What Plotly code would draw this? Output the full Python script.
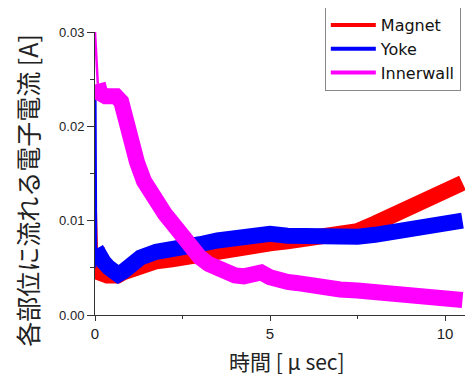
import plotly.graph_objects as go

# Innerwall (magenta)
t_inner = [0, 0.03, 0.08, 0.15, 0.3, 0.45, 0.6, 0.75, 0.9, 1.0, 1.2, 1.4, 1.6, 1.8, 2.0, 2.2, 2.4,
           2.6, 2.8, 3.0, 3.25, 3.5, 3.75, 4.0, 4.25, 4.5, 4.75, 5.0, 5.25, 5.5, 5.75, 6.0, 6.5, 7.0,
           7.5, 8.0, 8.5, 9.0, 9.25, 9.5, 9.75, 10.0, 10.25, 10.5]
v_inner = [0.0300, 0.0280, 0.0245, 0.0235, 0.0232, 0.0231, 0.0232, 0.0226, 0.0203, 0.0185, 0.0162,
           0.0142, 0.0128, 0.0117, 0.0107, 0.0098, 0.0088, 0.0079, 0.0069, 0.0061, 0.0054, 0.0049,
           0.0044, 0.0042, 0.0041, 0.0043, 0.0045, 0.0040, 0.0036, 0.0035, 0.0034, 0.0032, 0.0030,
           0.0027, 0.0026, 0.0024, 0.0022, 0.0020, 0.0020, 0.0018, 0.0021, 0.0017, 0.0019, 0.0016]

# Magnet (red)
t_mag = [0, 0.02, 0.05, 0.1, 0.2, 0.35, 0.5, 0.65, 0.8, 1.0, 1.3, 1.75, 2.2, 2.6, 3.0, 3.5,
         4.0, 4.5, 5.0, 5.5, 6.0, 6.5, 7.0, 7.5, 8.0, 8.5, 9.0, 9.5, 10.0, 10.25, 10.5]
v_mag = [0.0050, 0.0112, 0.0070, 0.0048, 0.0044, 0.0042, 0.0041, 0.0042, 0.0045, 0.0048, 0.0052,
         0.0057, 0.0059, 0.0062, 0.0064, 0.0067, 0.0070, 0.0073, 0.0076, 0.0078, 0.0080,
         0.0082, 0.0085, 0.0089, 0.0097, 0.0106, 0.0114, 0.0121, 0.0129, 0.0133, 0.0140]

# Yoke (blue)
t_yoke = [0, 0.01, 0.03, 0.06, 0.15, 0.25, 0.4, 0.52, 0.66, 0.8, 1.0, 1.3, 1.75, 2.25, 2.7, 3.0,
          3.5, 4.0, 4.5, 5.0, 5.5, 6.0, 6.5, 7.0, 7.5, 8.0, 8.5, 9.0, 9.5, 10.0, 10.25, 10.5]
v_yoke = [0.0050, 0.0230, 0.0070, 0.0066, 0.0062, 0.0056, 0.0050, 0.0046, 0.0043, 0.0046, 0.0052,
          0.0061, 0.0067, 0.0069, 0.0072, 0.0075, 0.0079, 0.0082, 0.0085, 0.0086, 0.0084, 0.0083,
          0.0082, 0.0081, 0.0083, 0.0085, 0.0088, 0.0090, 0.0093, 0.0096, 0.0098, 0.0100]

x_ticks = [0, 5, 10]
x_labels = ["0", "5", "10"]
y_ticks = [0, 0.01, 0.02, 0.03]
y_labels = ["0.00", "0.01", "0.02", "0.03"]

series = [("Magnet", t_mag, v_mag, "#ff0000", 3),
          ("Yoke", t_yoke, v_yoke, "#0000ff", 3),
          ("Innerwall", t_inner, v_inner, "#ff00ff", 3)]

fig = go.Figure()
for name, t, v, col, k in series:
    # initial spike drawn thin, remainder as thick noisy band
    fig.add_trace(go.Scatter(x=t[:k], y=v[:k], mode="lines", showlegend=False,
                             line=dict(color=col, width=2.5), hoverinfo="skip"))
    fig.add_trace(go.Scatter(x=t[k - 1:], y=v[k - 1:], mode="lines", showlegend=False,
                             line=dict(color=col, width=16), hoverinfo="skip"))
for name, t, v, col, k in series:
    fig.add_trace(go.Scatter(x=[None], y=[None], mode="lines", name=name,
                             line=dict(color=col, width=4)))

axis_common = dict(showline=True, linecolor="#333", linewidth=1, ticks="outside",
                   tickcolor="#333", showgrid=False, zeroline=False, mirror=False,
                   automargin=False)

# page body has an 8px margin, so the figure is 8px smaller and shifted margins
fig.update_layout(
    width=465, height=368,
    margin=dict(l=87, r=0, t=24, b=61, autoexpand=False),
    paper_bgcolor="white", plot_bgcolor="white",
    xaxis=dict(range=[0, 10.8], tickvals=x_ticks, ticktext=x_labels, ticklen=5,
               tickfont=dict(family="Liberation Sans, Arial", size=15, color="#222"),
               minor=dict(ticks="outside", ticklen=3, tickvals=[2.5, 7.5], tickcolor="#333"),
               **axis_common),
    yaxis=dict(range=[0, 0.03], tickvals=y_ticks, ticktext=y_labels, ticklen=7,
               tickfont=dict(family="Liberation Sans, Arial", size=13, color="#222"),
               minor=dict(ticks="outside", ticklen=4, tickvals=[0.005, 0.015, 0.025], tickcolor="#333"),
               **axis_common),
    legend=dict(x=0.608, y=1.088, xanchor="left", yanchor="top", bgcolor="white",
                bordercolor="#888", borderwidth=1, itemwidth=45, tracegroupgap=0,
                font=dict(family="DejaVu Sans", size=16, color="#111")),
    annotations=[
        dict(text="時間 [ μ sec]", xref="paper", yref="paper", x=0.508, y=-0.1625,
             xanchor="center", yanchor="middle", showarrow=False,
             font=dict(family="Noto Sans CJK JP", size=21, color="#222")),
        dict(text="各部位に流れる電子電流 [A]", xref="paper", yref="paper", x=-0.18, y=0.442,
             xanchor="center", yanchor="middle", showarrow=False, textangle=-90,
             font=dict(family="Noto Sans CJK JP", size=25, color="#222")),
    ],
)

fig.write_html("out.html")
